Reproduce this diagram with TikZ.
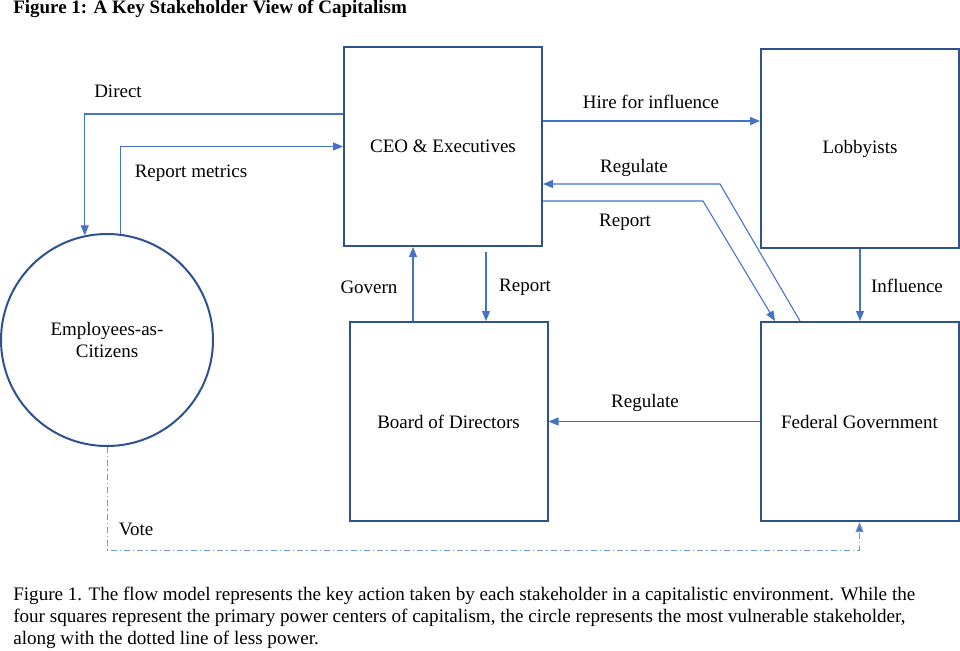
\documentclass[tikz,border=0pt]{standalone}
\usepackage{fontspec}
\setmainfont{Liberation Serif}
\usetikzlibrary{arrows.meta}
\definecolor{boxc}{RGB}{47,82,143}
\definecolor{linec}{RGB}{68,114,196}
\definecolor{votec}{RGB}{110,150,215}
\begin{document}
\begin{tikzpicture}[x=0.75pt,y=-0.75pt,
 every node/.style={font=\fontsize{14.25}{16.5}\selectfont, inner sep=0pt},
 box/.style={draw=boxc, line width=1.5pt, minimum width=148.5pt, minimum height=149.25pt, align=center},
 ring/.style={draw=boxc, line width=1.5pt, circle, minimum size=159pt, align=center},
 conn/.style={draw=linec, line width=0.8pt, -{Triangle[length=7.5pt,width=6pt]}},
 vote/.style={draw=votec, line width=0.75pt, dash pattern=on 4.5pt off 2.25pt on 1pt off 2.25pt, -{Triangle[length=7.5pt,width=6pt,fill=linec]}},
 lbl/.style={text=black},
 captionline/.style={anchor=base west, font=\fontsize{14.33}{16.5}\selectfont}]
\fill[white] (0,0) rectangle (960,650);
\useasboundingbox (0,0) rectangle (960,650);

% title
\node[anchor=base west, font=\fontsize{14.25}{16.5}\selectfont\bfseries] (title) at (13,13.5) {Figure 1: A Key Stakeholder View of Capitalism};

% boxes
\node[box] (ceo) at (443,146.5) {\raisebox{-1.5pt}{CEO \& Executives}};
\node[box] (lob) at (860,148.5) {\raisebox{-1.5pt}{Lobbyists}};
\node[box] (bod) at (448.5,421.5) {\raisebox{-1pt}{Board of Directors}};
\node[box] (fed) at (859.5,421.5) {\raisebox{-1pt}{Federal Government}};
\node[ring] (emp) at (107,340) {Employees-as-\\Citizens};

% helper coordinates
\coordinate (yDir) at (0,114);
\coordinate (yHire) at (0,121);
\coordinate (bendReg) at (720,184);
\coordinate (xReg) at (800,0);
\coordinate (bendRep) at (703,201);
\coordinate (xRep) at (775,0);
\coordinate (xGov) at (413,0);
\coordinate (repStart) at (486,252);
\coordinate (voteBend) at (107,550);

% connectors
\draw[conn] (ceo.west |- yDir) -| (emp.102.5);
\draw[conn] (emp.83.5) |- (ceo.west);
\draw[conn] (ceo.east |- yHire) -- (lob.west |- yHire);
\draw[conn] (fed.north -| xReg) -- (bendReg) -- (ceo.east |- bendReg);
\draw[conn] (ceo.east |- bendRep) -- (bendRep) -- (fed.north -| xRep);
\draw[conn] (lob.south) -- (fed.north -| lob.south);
\draw[conn] (bod.north -| xGov) -- (ceo.south -| xGov);
\draw[conn] (repStart) -- (bod.north -| repStart);
\draw[conn] (fed.west) -- (bod.east);
\draw[vote] (emp.south) -- (voteBend) -| (fed.south);

% labels
\node[lbl] (lDirect) at (118,91.5) {Direct};
\node[lbl] (lMetrics) at (191,173) {Report metrics};
\node[lbl] (lHire) at (651,102) {Hire for influence};
\node[lbl] (lReg1) at (634,168) {Regulate};
\node[lbl] (lRep1) at (625,222) {Report};
\node[lbl] (lInfl) at (907,286) {Influence};
\node[lbl] (lGov) at (369,287) {Govern};
\node[lbl] (lRep2) at (525,287) {Report};
\node[lbl] (lReg2) at (645,403) {Regulate};
\node[lbl] (lVote) at (136,529) {Vote};

% caption
\node[captionline] (cap1) at (13,600) {Figure 1. The flow model represents the key action taken by each stakeholder in a capitalistic environment. While the};
\node[captionline] (cap2) at (13,622) {four squares represent the primary power centers of capitalism, the circle represents the most vulnerable stakeholder,};
\node[captionline] (cap3) at (13,644) {along with the dotted line of less power.};
\end{tikzpicture}
\end{document}
